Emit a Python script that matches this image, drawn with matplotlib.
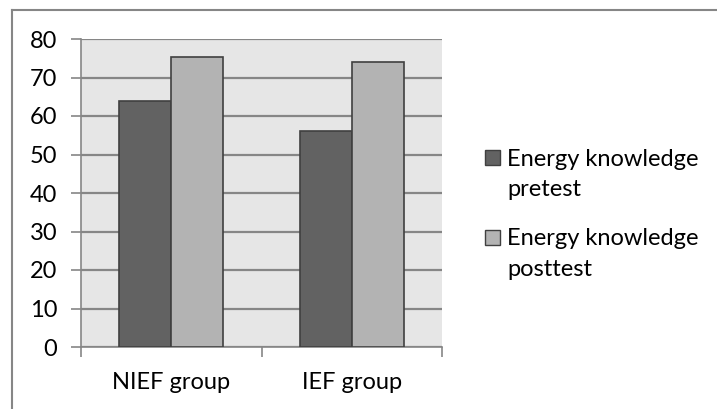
import matplotlib
matplotlib.use('Agg')
import numpy as np
import matplotlib.pyplot as plt
from matplotlib.lines import Line2D
from matplotlib.patches import Rectangle

# data
groups = ['NIEF group', 'IEF group']
pretest = [64.0, 56.2]
posttest = [75.4, 74.1]
series_names = [['Energy knowledge', 'pretest'], ['Energy knowledge', 'posttest']]
series_colors = ['#626262', '#b3b3b3']

plt.rcParams['font.family'] = ['Lato', 'DejaVu Sans']
FS = 17

W, H = 717, 409
fig = plt.figure(figsize=(W/100, H/100), dpi=100)
ax = fig.add_axes([81/W, 1 - 347/H, (442-81)/W, (347-39)/H])
ax.set_facecolor('#e6e6e6')

x = np.arange(len(groups))
w = 0.288
b1 = ax.bar(x - w/2, pretest, w, color=series_colors[0], edgecolor='#404040', linewidth=1.2, zorder=3)
b2 = ax.bar(x + w/2, posttest, w, color=series_colors[1], edgecolor='#404040', linewidth=1.2, zorder=3)

ax.set_xlim(-0.5, 1.5)
ax.set_ylim(0, 80)
ax.set_yticks(range(0, 81, 10))
ax.yaxis.grid(True, color='#868686', linewidth=1.6, zorder=1)
ax.set_axisbelow(True)

ax.set_xticks([-0.5, 0.5, 1.5])
ax.set_xticklabels([])
ax.set_xticks(x, minor=True)
ax.set_xticklabels(groups, minor=True)
ax.tick_params(axis='x', which='minor', length=0, pad=18, labelsize=FS)
ax.tick_params(axis='x', which='major', length=7, color='#868686', width=1.2)
ax.tick_params(axis='y', length=7, color='#868686', width=1.2, pad=10, labelsize=FS)

for s in ['top', 'right']:
    ax.spines[s].set_visible(False)
for s in ['left', 'bottom']:
    ax.spines[s].set_color('#868686')
    ax.spines[s].set_linewidth(1.2)

# legend drawn by hand so the swatch sits on the first line, as in the original
first_line_y = [157, 237]
for name, col, y0 in zip(series_names, series_colors, first_line_y):
    fig.add_artist(Rectangle((485/W, 1 - (y0 + 8)/H), 15/W, 15/H,
                             facecolor=col, edgecolor='#404040', linewidth=1.0,
                             transform=fig.transFigure))
    for k, line in enumerate(name):
        fig.text(507/W, 1 - (y0 + 30*k)/H, line, fontsize=FS, va='center_baseline', ha='left')

# outer chart border (top and left visible)
fig.add_artist(Line2D([12/W, 1], [1 - 10/H, 1 - 10/H], color='#868686', linewidth=1.5))
fig.add_artist(Line2D([12/W, 12/W], [0, 1 - 10/H], color='#868686', linewidth=1.5))

plt.savefig('out.png', dpi=100)
